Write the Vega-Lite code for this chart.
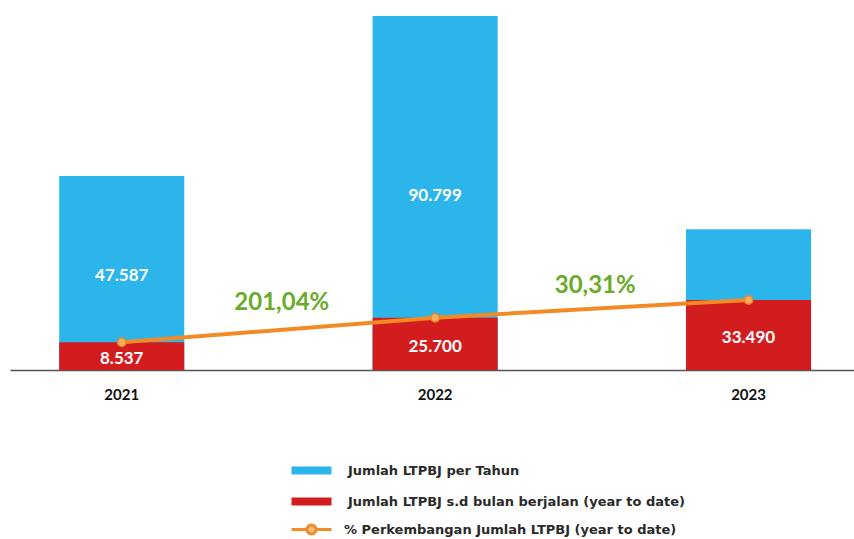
{
  "$schema": "https://vega.github.io/schema/vega-lite/v6.json",
  "width": 844,
  "height": 354,
  "autosize": {"type": "none"},
  "padding": {"left": 10, "top": 16, "right": 0, "bottom": 169},
  "background": "white",
  "config": {"view": {"stroke": null}, "font": "Lato"},
  "datasets": {
    "bars": [
      {"year": "2021", "series": "Jumlah LTPBJ per Tahun", "value": 49760, "label": "47.587"},
      {"year": "2022", "series": "Jumlah LTPBJ per Tahun", "value": 90799, "label": "90.799"},
      {"year": "2023", "series": "Jumlah LTPBJ per Tahun", "value": 36090, "label": ""},
      {"year": "2021", "series": "Jumlah LTPBJ s.d bulan berjalan (year to date)", "value": 7105, "label": "8.537"},
      {"year": "2022", "series": "Jumlah LTPBJ s.d bulan berjalan (year to date)", "value": 13415, "label": "25.700"},
      {"year": "2023", "series": "Jumlah LTPBJ s.d bulan berjalan (year to date)", "value": 17955, "label": "33.490"}
    ],
    "growth": [
      {"year": "2021", "label": "201,04%", "level": 17185},
      {"year": "2022", "label": "30,31%", "level": 21545}
    ]
  },
  "encoding": {
    "x": {
      "field": "year",
      "type": "nominal",
      "scale": {"paddingInner": 0.601, "paddingOuter": 0.147, "align": 0.534},
      "axis": {
        "title": null,
        "labelAngle": 0,
        "ticks": false,
        "labelPadding": 17,
        "labelFont": "Lato",
        "labelFontSize": 15,
        "labelFontWeight": "bold",
        "labelColor": "#111111",
        "domainColor": "#555555",
        "domainWidth": 1.5
      }
    }
  },
  "layer": [
    {
      "data": {"name": "bars"},
      "mark": {"type": "bar"},
      "encoding": {
        "y": {"field": "value", "type": "quantitative", "stack": null, "scale": {"domain": [0, 90799], "nice": false}, "axis": null},
        "color": {
          "field": "series",
          "type": "nominal",
          "scale": {
            "domain": ["Jumlah LTPBJ per Tahun", "Jumlah LTPBJ s.d bulan berjalan (year to date)"],
            "range": ["#2cb5ea", "#d31c1e"]
          },
          "legend": {
            "orient": "none",
            "legendX": 295,
            "legendY": 448,
            "title": null,
            "direction": "vertical",
            "symbolType": "M-4,-0.8H4V0.8H-4Z",
            "symbolSize": 100,
            "symbolStrokeWidth": 0,
            "labelFont": "DejaVu Sans",
            "labelFontSize": 13,
            "labelFontWeight": "bold",
            "labelColor": "#2a2a2a",
            "labelOffset": 30,
            "labelLimit": 500,
            "rowPadding": 17,
            "padding": 0
          }
        }
      }
    },
    {
      "data": {"name": "bars"},
      "transform": [{"filter": "datum.series === 'Jumlah LTPBJ per Tahun'"}],
      "mark": {"type": "text", "color": "white", "font": "Lato", "fontSize": 17, "fontWeight": "bold", "baseline": "middle", "dy": 3},
      "encoding": {
        "y": {"field": "value", "type": "quantitative", "stack": "zero", "bandPosition": 0.5},
        "text": {"field": "label"}
      }
    },
    {
      "data": {"name": "bars"},
      "transform": [{"filter": "datum.series !== 'Jumlah LTPBJ per Tahun'"}],
      "mark": {"type": "text", "color": "white", "font": "Lato", "fontSize": 17, "fontWeight": "bold", "baseline": "middle", "dy": 3},
      "encoding": {
        "y": {"field": "value", "type": "quantitative", "stack": "zero", "bandPosition": 0.5},
        "text": {"field": "label"}
      }
    },
    {
      "data": {"name": "bars"},
      "transform": [{"filter": "datum.series !== 'Jumlah LTPBJ per Tahun'"}],
      "mark": {"type": "line", "strokeWidth": 4},
      "encoding": {
        "y": {"field": "value", "type": "quantitative"},
        "stroke": {
          "datum": "% Perkembangan Jumlah LTPBJ (year to date)",
          "type": "nominal",
          "scale": {"range": ["#f28b25"]},
          "legend": {
            "orient": "none",
            "legendX": 295,
            "legendY": 507,
            "title": null,
            "symbolType": "M-4,0H-0.9M0.9,0H4M0.9,0A0.9,0.9,0,1,1,-0.9,0A0.9,0.9,0,1,1,0.9,0",
            "symbolSize": 100,
            "symbolStrokeWidth": 3,
            "symbolFillColor": "#f9bd80",
            "labelFont": "DejaVu Sans",
            "labelFontSize": 13,
            "labelFontWeight": "bold",
            "labelColor": "#2a2a2a",
            "labelOffset": 26,
            "labelLimit": 500,
            "padding": 0
          }
        }
      }
    },
    {
      "data": {"name": "bars"},
      "transform": [{"filter": "datum.series !== 'Jumlah LTPBJ per Tahun'"}],
      "mark": {"type": "point", "filled": true, "fill": "#f7ae62", "stroke": "#ee8420", "strokeWidth": 1.5, "size": 70, "opacity": 1},
      "encoding": {
        "y": {"field": "value", "type": "quantitative"}
      }
    },
    {
      "data": {"name": "growth"},
      "mark": {"type": "text", "color": "#6aab2b", "font": "Lato", "fontSize": 24, "fontWeight": "bold", "baseline": "middle", "align": "center"},
      "encoding": {
        "x": {"field": "year", "type": "nominal", "bandPosition": 1.78},
        "y": {"field": "level", "type": "quantitative"},
        "text": {"field": "label"}
      }
    }
  ]
}
